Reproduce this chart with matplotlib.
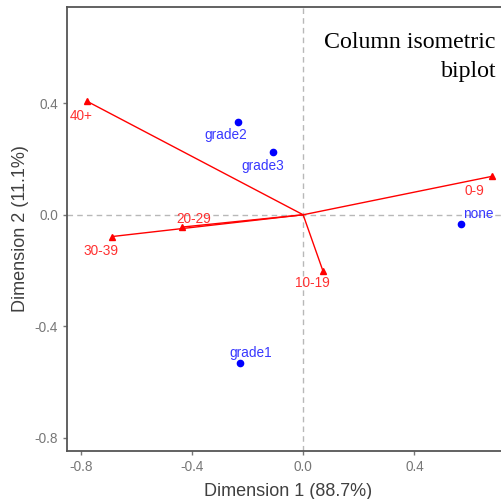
import matplotlib
matplotlib.use("Agg")
import matplotlib.pyplot as plt

# ---- data ----
age_labels = ["40+", "30-39", "20-29", "10-19", "0-9"]
age_x = [-0.778, -0.686, -0.434, 0.071, 0.679]
age_y = [0.408, -0.078, -0.044, -0.201, 0.138]

grade_labels = ["grade2", "grade3", "grade1", "none"]
grade_x = [-0.235, -0.107, -0.226, 0.569]
grade_y = [0.333, 0.226, -0.531, -0.032]

xticks = [-0.8, -0.4, 0.0, 0.4]
yticks = [-0.8, -0.4, 0.0, 0.4]

title_lines = ["Column isometric", "biplot"]

# label offsets (pixels) from each mark to its text centre
age_off = {"40+": (-6, -15), "30-39": (-11, -14), "20-29": (11, 8),
           "10-19": (-11, -12), "0-9": (-18, -15)}
grade_off = {"grade2": (-12, -13), "grade3": (-11, -14),
             "grade1": (10, 10), "none": (17, 10)}

plt.rcParams["font.family"] = ["Liberation Sans", "DejaVu Sans"]

fig = plt.figure(figsize=(5.02, 4.99), dpi=100)
ax = fig.add_axes([0.1335, 0.0962, 0.8665, 0.8898])

ax.axhline(0, color="#b8b8b8", lw=1, ls=(0, (4, 3)), zorder=1)
ax.axvline(0, color="#b8b8b8", lw=1, ls=(0, (4, 3)), zorder=1)

for lab, x, y in zip(age_labels, age_x, age_y):
    ax.plot([0, x], [0, y], color="red", lw=1.0, zorder=3)
    ax.plot(x, y, marker="^", color="red", ms=5, zorder=4, ls="none")
    ax.annotate(lab, (x, y), xytext=age_off[lab], textcoords="offset pixels",
                ha="center", va="center", color="#ff3030", fontsize=9.8)

ax.plot(grade_x, grade_y, "o", color="blue", ms=4.5, ls="none", zorder=4)
for lab, x, y in zip(grade_labels, grade_x, grade_y):
    ax.annotate(lab, (x, y), xytext=grade_off[lab], textcoords="offset pixels",
                ha="center", va="center", color="#3838ff", fontsize=9.8)

ax.set_xlim(-0.849, 0.715)
ax.set_ylim(-0.848, 0.746)
ax.set_xticks(xticks)
ax.set_yticks(yticks)
ax.set_xticklabels([f"{t:.1f}" for t in xticks])
ax.set_yticklabels([f"{t:.1f}" for t in yticks])
ax.tick_params(colors="#777777", labelsize=9.8, length=3, width=1)

for s in ["left", "bottom", "top"]:
    ax.spines[s].set_color("#555555")
    ax.spines[s].set_linewidth(1.3)
ax.spines["right"].set_visible(False)

ax.set_xlabel("Dimension 1 (88.7%)", fontsize=13, color="#404040")
ax.set_ylabel("Dimension 2 (11.1%)", fontsize=13, color="#404040", labelpad=4)
ax.xaxis.set_label_coords((288 - 67) / 435, -0.072)

# title lines, right aligned, baselines at 48 px and 77 px from the top
for line, base in zip(title_lines, [48, 77]):
    fig.text(496 / 502, 1 - base / 499, line, ha="right", va="baseline",
             family=["Liberation Serif", "DejaVu Serif"], fontsize=17.2, color="black")

fig.savefig("out.png", dpi=100)
